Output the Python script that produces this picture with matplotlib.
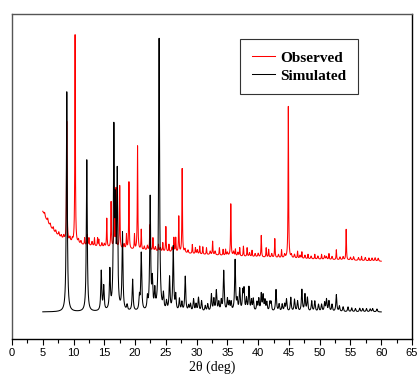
"""Observed vs. simulated powder XRD pattern (stacked, arbitrary intensity)."""

import matplotlib

matplotlib.use("Agg")
import matplotlib.pyplot as plt
import numpy as np


# Peak positions (2theta, deg) and apex heights (plot units, 0-100).
sim_pos = [8.9, 12.15, 14.5, 14.9, 15.9, 16.55, 16.8, 17.1, 17.95, 18.7, 19.6,
           20.7, 21.0, 22.0, 22.45, 22.8, 23.2, 23.9, 24.6, 25.1, 25.6, 26.2,
           26.6, 27.2, 27.6, 28.15, 28.7, 29.0, 29.5, 29.9, 30.3, 30.8, 31.4,
           31.8, 32.4, 32.8, 33.2, 33.6, 34.0, 34.4, 35.0, 35.3, 35.6, 36.25,
           36.6, 37.0, 37.5, 37.7, 38.1, 38.5, 38.9, 39.2, 39.8, 40.1, 40.5,
           40.8, 41.1, 41.4, 41.9, 42.1, 42.9, 43.4, 43.9, 44.3, 44.6, 45.3,
           45.9, 46.4, 47.1, 47.6, 48.0, 48.7, 49.2, 49.8, 50.3, 50.8, 51.1,
           51.5, 52.0, 52.7, 53.2, 53.8, 54.6, 55.2, 55.8, 56.5, 57.0, 57.6,
           58.2, 58.6, 59.3]
sim_top = [76, 55, 20.5, 15.7, 20.3, 62, 36, 49, 32, 10, 18,
           12.5, 26, 12, 43, 17, 14, 92, 13, 11, 18.5, 28,
           13, 12, 11, 19, 10, 10.5, 12, 10.5, 12.5, 11.5, 10,
           10.5, 13.5, 12, 14.6, 11, 11.5, 20.7, 12, 11, 11, 24,
           11.5, 15, 14, 14.6, 12, 15.6, 11.5, 12, 11, 12, 13.5,
           13, 11.5, 11, 11, 11, 15, 10.5, 10.5, 10.5, 12, 12.6,
           12, 11.5, 15, 13.5, 12.5, 11.5, 11.5, 10.5, 10.5, 11, 12,
           11.5, 10.5, 13.5, 10, 9.8, 9.8, 9.5, 9.3, 9.4, 9.3, 9.3,
           9.2, 9.3, 9.2]
sim_base = 8.3

obs_pos = [8.9, 10.25, 11.8, 12.2, 12.5, 13.4, 13.9, 14.1, 15.4, 16.1, 16.6,
           16.9, 17.5, 18.6, 19.0, 19.9, 20.4, 21.0, 22.4, 22.9, 23.8, 24.5,
           25.0, 25.5, 26.3, 26.6, 27.1, 27.65, 29.3, 29.8, 30.5, 31.0, 31.6,
           32.6, 33.7, 34.3, 34.7, 35.55, 36.3, 37.0, 37.6, 38.2, 39.0, 40.5,
           41.3, 41.7, 42.7, 43.8, 44.9, 46.4, 47.1, 48.1, 49.2, 50.3, 51.5,
           52.7, 54.3, 56.8, 58.0]
obs_top = [66.8, 93.5, 31, 32, 31, 31, 31, 30.5, 37, 42, 43,
           46, 47, 32, 48.2, 32, 59.3, 33.5, 35, 31, 29, 29.5,
           34.5, 29, 31, 31, 37.6, 52.3, 29, 28, 28.5, 28.3, 28,
           30, 28, 27.5, 27.5, 41.5, 27.5, 28, 28.5, 28, 27.2, 31.8,
           28, 27.5, 30.8, 27.3, 71.5, 26.9, 26.7, 26, 26, 26, 26.2,
           27.4, 33.7, 25.4, 24.9]

# Fine jaggedness of the measured trace: small bumps above the background.
ripple_pos = [5.3, 5.8, 6.2, 6.7, 7.1, 7.6, 8.0, 8.4, 9.4, 9.8, 10.8, 11.2,
              13.0, 14.6, 15.0, 18.2, 21.5, 22.0, 23.3, 24.1, 26.0, 28.1,
              28.6, 30.1, 32.2, 33.0, 35.0, 36.0, 36.7, 38.6, 39.5, 40.0,
              42.2, 43.3, 44.3, 45.4, 45.9, 46.8, 47.6, 48.6, 49.7, 50.8,
              51.1, 52.0, 53.3, 53.8, 55.0, 55.5, 56.3, 57.4, 58.5, 59.0, 59.5]
ripple_amp = [1.0, 1.2, 0.9, 1.1, 1.0, 1.2, 0.9, 1.1, 1.3, 1.0, 1.2, 1.0,
              1.3, 1.2, 1.0, 1.4, 1.2, 1.5, 1.3, 1.1, 1.4, 1.2,
              1.0, 1.3, 1.1, 1.2, 1.0, 1.3, 1.1, 1.2, 1.0, 1.1,
              1.2, 1.0, 1.1, 1.0, 1.2, 1.0, 1.1, 0.9, 1.0, 1.1,
              0.9, 1.0, 0.9, 1.0, 0.9, 1.1, 0.9, 1.0, 0.9, 1.0, 0.9]

# Background of the observed trace (falls off from the low-angle side).
obs_bg_x = [5, 5.5, 6, 6.5, 7, 8, 9, 10, 12, 15, 20, 25, 30, 35, 40, 45, 50, 55, 60]
obs_bg_y = [39.2, 37, 35.2, 33.8, 32.6, 31.0, 30.0, 29.4, 28.8, 28.2, 27.4, 26.8,
            26.1, 25.6, 25.2, 24.8, 24.5, 24.2, 23.9]

XTICKS = list(range(0, 70, 5))


def lorentz_sum(x, positions, amps, hwhm):
    """Sum of Lorentzian peaks with the given amplitudes."""
    y = np.zeros_like(x)
    for p, a in zip(positions, amps):
        y += max(a, 0.0) / (1.0 + ((x - p) / hwhm) ** 2)
    return y


def main():
    x = np.linspace(5, 60, 5501)

    bg = np.interp(x, obs_bg_x, obs_bg_y)
    obs_amp = [t - np.interp(p, obs_bg_x, obs_bg_y) for p, t in zip(obs_pos, obs_top)]
    y_obs = (bg + lorentz_sum(x, obs_pos, obs_amp, 0.05)
             + lorentz_sum(x, ripple_pos, ripple_amp, 0.08))

    sim_amp = [t - sim_base for t in sim_top]
    y_sim = sim_base + lorentz_sum(x, sim_pos, sim_amp, 0.09)

    fig = plt.figure(figsize=(4.2, 3.83), dpi=100)
    ax = fig.add_axes([0.0286, 0.1149, 0.9524, 0.8485])

    ax.plot(x, y_obs, color="#ff0000", lw=0.75, label="Observed")
    ax.plot(x, y_sim, color="#000000", lw=0.75, label="Simulated")

    ax.set_xlim(0, 65)
    ax.set_ylim(0, 100)
    ax.set_xticks(XTICKS)
    ax.set_xticks(np.arange(0, 65, 2.5), minor=True)
    ax.set_yticks([])
    ax.tick_params(axis="x", which="major", direction="out", length=4.5,
                   width=0.8, labelsize=8, pad=2)
    ax.tick_params(axis="x", which="minor", direction="out", length=3, width=0.8)
    for lab in ax.get_xticklabels():
        lab.set_family("Liberation Sans")
    ax.set_xlabel("2θ (deg)", family="Liberation Serif", fontsize=10, labelpad=2)

    for side in ("left", "top"):
        ax.spines[side].set_color("#555555")
    for spine in ax.spines.values():
        spine.set_linewidth(1.0)

    leg = ax.legend(loc="upper left", bbox_to_anchor=(0.571, 0.922),
                    borderaxespad=0, fancybox=False, edgecolor="#333333",
                    framealpha=1, handlelength=1.5, handletextpad=0.35,
                    labelspacing=0.3, borderpad=0.75,
                    prop={"family": "Liberation Serif", "weight": "bold", "size": 11})
    leg.get_frame().set_linewidth(0.8)

    fig.savefig("out.png", dpi=100)


if __name__ == "__main__":
    main()
